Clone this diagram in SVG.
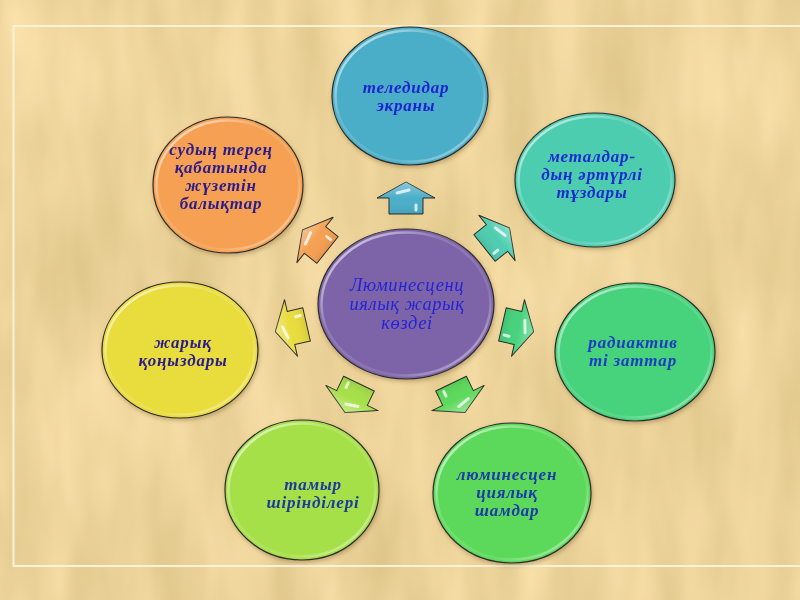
<svg xmlns="http://www.w3.org/2000/svg" width="800" height="600" viewBox="0 0 800 600">
<defs>
<filter id="paper" x="0" y="0" width="100%" height="100%" color-interpolation-filters="sRGB">
<feTurbulence type="fractalNoise" baseFrequency="0.022 0.006" numOctaves="3" seed="5"/>
<feColorMatrix type="matrix" values="0.13 0 0 0 0.865  0.13 0 0 0 0.765  0.15 0 0 0 0.53  0 0 0 0 1"/>
</filter>
<filter id="sh" x="-20%" y="-20%" width="140%" height="140%">
<feDropShadow dx="1" dy="2" stdDeviation="2" flood-color="#5a4020" flood-opacity="0.35"/>
</filter>
<linearGradient id="rim" x1="0" y1="0" x2="1" y2="1">
<stop offset="0" stop-color="#fff" stop-opacity="0.85"/>
<stop offset="0.35" stop-color="#fff" stop-opacity="0.15"/>
<stop offset="0.7" stop-color="#fff" stop-opacity="0.1"/>
<stop offset="1" stop-color="#fff" stop-opacity="0.6"/>
</linearGradient>
<linearGradient id="gloss" x1="0" y1="0" x2="0" y2="1">
<stop offset="0" stop-color="#fff" stop-opacity="0.35"/>
<stop offset="0.5" stop-color="#fff" stop-opacity="0"/>
<stop offset="1" stop-color="#000" stop-opacity="0.08"/>
</linearGradient>
<path id="arr" d="M-17,16 L-17,0 L-29,0 L0,-16 L29,0 L17,0 L17,16 Z"/>
<style>
.node ellipse.b{stroke:#2b2b2b;stroke-width:1.2}
.node ellipse.r{fill:none;stroke:url(#rim);stroke-width:2.5}
.t{font-family:"Liberation Serif","Times New Roman",serif;font-style:italic;font-weight:bold;font-size:17px;letter-spacing:0.8px;text-anchor:middle}
.c{font-weight:normal;font-size:18.5px;letter-spacing:0.6px}
.arrow use.b{stroke:#2b2b2b;stroke-width:1;stroke-linejoin:round}
.arrow use.g{fill:url(#gloss)}
.arrow path.h{fill:none;stroke:#fff;stroke-opacity:0.75;stroke-width:3;stroke-linecap:round}
</style>
</defs>
<rect width="800" height="600" fill="#ECD399"/>
<rect width="800" height="600" filter="url(#paper)"/>
<path d="M805,26 H13.5 V566 H805" fill="none" stroke="#FBF1D8" stroke-width="2"/>

<g id="connectors">
<g class="arrow" transform="translate(406,198)"><use href="#arr" class="b" fill="#4BAEC8"/><use href="#arr" class="g"/><path class="h" d="M-9,-5 L3,-8 M10,7 L10,12"/></g>
<g class="arrow" transform="translate(497,238) rotate(51.4)"><use href="#arr" class="b" fill="#4ECDB0"/><use href="#arr" class="g"/><path class="h" d="M-9,-5 L3,-8 M10,7 L10,12"/></g>
<g class="arrow" transform="translate(518,328) rotate(102.9)"><use href="#arr" class="b" fill="#46D27C"/><use href="#arr" class="g"/><path class="h" d="M-9,-5 L3,-8 M10,7 L10,12"/></g>
<g class="arrow" transform="translate(458,398) rotate(154.3)"><use href="#arr" class="b" fill="#5CD95A"/><use href="#arr" class="g"/><path class="h" d="M-9,-5 L3,-8 M10,7 L10,12"/></g>
<g class="arrow" transform="translate(352,398) rotate(205.7)"><use href="#arr" class="b" fill="#A6E048"/><use href="#arr" class="g"/><path class="h" d="M-9,-5 L3,-8 M10,7 L10,12"/></g>
<g class="arrow" transform="translate(291,328) rotate(257.1)"><use href="#arr" class="b" fill="#E9DC3E"/><use href="#arr" class="g"/><path class="h" d="M-9,-5 L3,-8 M10,7 L10,12"/></g>
<g class="arrow" transform="translate(315,240) rotate(308.6)"><use href="#arr" class="b" fill="#F5A052"/><use href="#arr" class="g"/><path class="h" d="M-9,-5 L3,-8 M10,7 L10,12"/></g>
</g>

<g id="center" class="node" filter="url(#sh)">
<ellipse class="b" cx="406" cy="304" rx="88" ry="75" fill="#7D64A8"/>
<ellipse class="r" cx="406" cy="304" rx="84.5" ry="71.5"/>
<g class="t c" fill="#2424D8"><text x="407" y="291">Люминесценц</text><text x="407" y="310">иялық жарық</text><text x="407" y="329">көздеі</text></g>
</g>

<g id="n-tv" class="node" filter="url(#sh)">
<ellipse class="b" cx="410" cy="96" rx="78" ry="69" fill="#4BAEC8"/>
<ellipse class="r" cx="410" cy="96" rx="74.5" ry="65.5"/>
<g class="t" fill="#1E24D0"><text x="406" y="93">теледидар</text><text x="406" y="111">экраны</text></g>
</g>

<g id="n-metal" class="node" filter="url(#sh)">
<ellipse class="b" cx="595" cy="180" rx="80" ry="67" fill="#4ECDB0"/>
<ellipse class="r" cx="595" cy="180" rx="76.5" ry="63.5"/>
<g class="t" fill="#1A2AD0"><text x="592" y="162">металдар-</text><text x="592" y="180">дың әртүрлі</text><text x="592" y="198">тұздары</text></g>
</g>

<g id="n-radio" class="node" filter="url(#sh)">
<ellipse class="b" cx="635" cy="352" rx="80" ry="69" fill="#46D27C"/>
<ellipse class="r" cx="635" cy="352" rx="76.5" ry="65.5"/>
<g class="t" fill="#1B3CC0"><text x="633" y="348">радиактив</text><text x="633" y="366">ті заттар</text></g>
</g>

<g id="n-lamps" class="node" filter="url(#sh)">
<ellipse class="b" cx="512" cy="493" rx="79" ry="70" fill="#5CD95A"/>
<ellipse class="r" cx="512" cy="493" rx="75.5" ry="66.5"/>
<g class="t" fill="#1A3AA8"><text x="507" y="480">люминесцен</text><text x="507" y="498">циялық</text><text x="507" y="516">шамдар</text></g>
</g>

<g id="n-root" class="node" filter="url(#sh)">
<ellipse class="b" cx="302" cy="490" rx="77" ry="70" fill="#A6E048"/>
<ellipse class="r" cx="302" cy="490" rx="73.5" ry="66.5"/>
<g class="t" fill="#1A3A9E"><text x="313" y="490">тамыр</text><text x="313" y="508">шірінділері</text></g>
</g>

<g id="n-beetle" class="node" filter="url(#sh)">
<ellipse class="b" cx="180" cy="350" rx="78" ry="68" fill="#E9DC3E"/>
<ellipse class="r" cx="180" cy="350" rx="74.5" ry="64.5"/>
<g class="t" fill="#2A1C8C"><text x="183" y="348">жарық</text><text x="183" y="366">қоңыздары</text></g>
</g>

<g id="n-fish" class="node" filter="url(#sh)">
<ellipse class="b" cx="228" cy="185" rx="75" ry="68" fill="#F5A052"/>
<ellipse class="r" cx="228" cy="185" rx="71.5" ry="64.5"/>
<g class="t" fill="#2A1C8C"><text x="221" y="155">судың терең</text><text x="221" y="173">қабатында</text><text x="221" y="191">жүзетін</text><text x="221" y="209">балықтар</text></g>
</g>
</svg>
